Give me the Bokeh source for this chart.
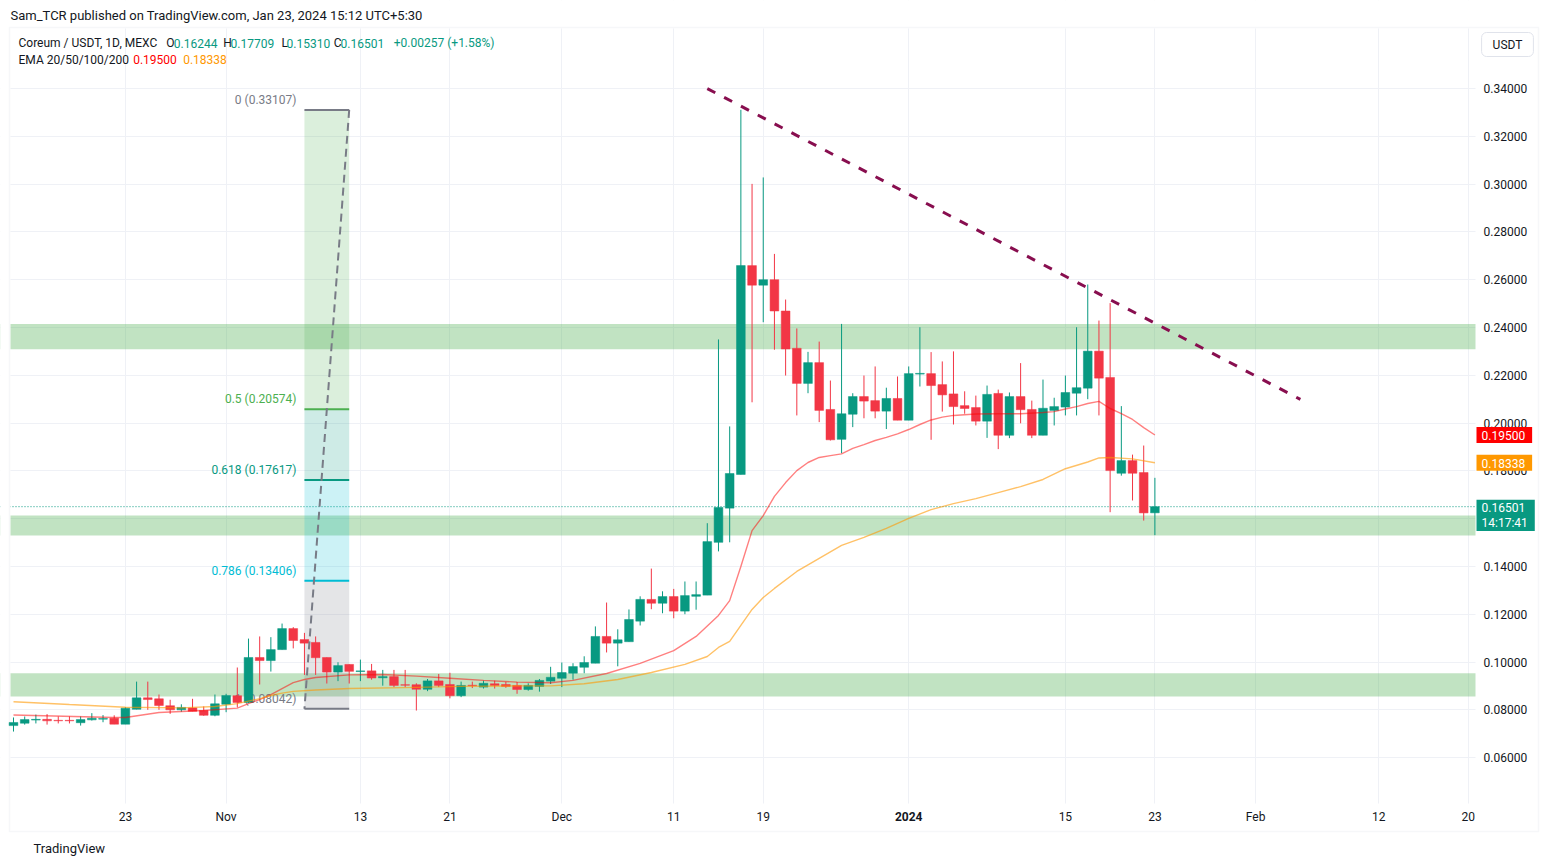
import pandas as pd
from bokeh.plotting import figure
from bokeh.models import (Range1d, FixedTicker, NumeralTickFormatter, BoxAnnotation,
                          Span, Label, ColumnDataSource)
from bokeh.core.properties import value
from bokeh.embed import file_html
from bokeh.resources import INLINE

# ---------------- data ----------------
start_date = "2023-10-13"
opens = [0.0734, 0.0744, 0.0757, 0.0760, 0.0756, 0.0756, 0.0746, 0.0758, 0.0761, 0.0765,
         0.0740, 0.0802, 0.0850, 0.0846, 0.0817, 0.0800, 0.0808, 0.0797, 0.0777, 0.0823,
         0.0859, 0.0831, 0.1019, 0.1006, 0.1052, 0.1140, 0.1094, 0.1082, 0.1019, 0.0958,
         0.0990, 0.0960, 0.0963, 0.0934, 0.0939, 0.0905, 0.0905, 0.0886, 0.0921, 0.0906,
         0.0859, 0.0903, 0.0895, 0.0909, 0.0906, 0.0902, 0.0885, 0.0898, 0.0920, 0.0932,
         0.0953, 0.0978, 0.0995, 0.1107, 0.1079, 0.1085, 0.1171, 0.1262, 0.1246, 0.1274,
         0.1213, 0.1275, 0.1280, 0.1501, 0.1644, 0.1785, 0.2659, 0.2577, 0.2600, 0.2469,
         0.2313, 0.2166, 0.2253, 0.2057, 0.1932, 0.2037, 0.2111, 0.2094, 0.2050, 0.2103,
         0.2012, 0.2205, 0.2207, 0.2161, 0.2122, 0.2073, 0.2065, 0.2008, 0.2124, 0.1949,
         0.2111, 0.2057, 0.1949, 0.2053, 0.2067, 0.2125, 0.2146, 0.2301, 0.2191, 0.1790,
         0.1843, 0.1793, 0.16244]
highs = [0.0768, 0.0772, 0.0780, 0.0782, 0.0772, 0.0772, 0.0772, 0.0786, 0.0778, 0.0777,
         0.0811, 0.0918, 0.0918, 0.0864, 0.0842, 0.0823, 0.0846, 0.0814, 0.0864, 0.0867,
         0.0977, 0.1098, 0.1107, 0.1104, 0.1161, 0.1146, 0.1122, 0.1107, 0.1019, 0.0999,
         0.0990, 0.1010, 0.0992, 0.0967, 0.0967, 0.0967, 0.0911, 0.0929, 0.0950, 0.0955,
         0.0918, 0.0918, 0.0922, 0.0922, 0.0917, 0.0916, 0.0911, 0.0929, 0.0980, 0.0998,
         0.0995, 0.1024, 0.1149, 0.1249, 0.1137, 0.1220, 0.1275, 0.1391, 0.1296, 0.1306,
         0.1337, 0.1337, 0.1581, 0.2350, 0.1986, 0.3311, 0.3001, 0.3028, 0.2708, 0.2517,
         0.2396, 0.2298, 0.2341, 0.2178, 0.2415, 0.2125, 0.2199, 0.2237, 0.2148, 0.2195,
         0.2237, 0.2401, 0.2297, 0.2258, 0.2300, 0.2133, 0.2115, 0.2157, 0.2140, 0.2128,
         0.2251, 0.2094, 0.2182, 0.2106, 0.2199, 0.2401, 0.2580, 0.2429, 0.2502, 0.2071,
         0.1868, 0.1906, 0.17709]
lows = [0.0709, 0.0738, 0.0743, 0.0738, 0.0743, 0.0743, 0.0734, 0.0755, 0.0748, 0.0740,
        0.0740, 0.0802, 0.0800, 0.0800, 0.0783, 0.0792, 0.0794, 0.0775, 0.0773, 0.0790,
        0.0810, 0.0828, 0.0906, 0.0960, 0.1052, 0.1057, 0.0946, 0.0946, 0.0910, 0.0920,
        0.0910, 0.0920, 0.0926, 0.0901, 0.0895, 0.0895, 0.0797, 0.0878, 0.0895, 0.0848,
        0.0853, 0.0891, 0.0889, 0.0889, 0.0892, 0.0867, 0.0880, 0.0876, 0.0908, 0.0895,
        0.0926, 0.0953, 0.0995, 0.1040, 0.0982, 0.1085, 0.1153, 0.1221, 0.1204, 0.1183,
        0.1200, 0.1219, 0.1280, 0.1463, 0.1501, 0.1785, 0.2087, 0.2422, 0.2307, 0.2199,
        0.2032, 0.2125, 0.2004, 0.1927, 0.1874, 0.1983, 0.2020, 0.2020, 0.1975, 0.2012,
        0.2012, 0.2153, 0.1930, 0.2048, 0.1994, 0.2039, 0.1990, 0.1938, 0.1891, 0.1937,
        0.1999, 0.1937, 0.1949, 0.1990, 0.2032, 0.2032, 0.2100, 0.2032, 0.1627, 0.1780,
        0.1676, 0.1592, 0.15310]
closes = [0.0747, 0.0759, 0.0760, 0.0754, 0.0754, 0.0754, 0.0759, 0.0765, 0.0764, 0.0740,
          0.0807, 0.0850, 0.0843, 0.0818, 0.0800, 0.0810, 0.0794, 0.0777, 0.0825, 0.0860,
          0.0831, 0.1019, 0.1006, 0.1052, 0.1140, 0.1090, 0.1079, 0.1018, 0.0958, 0.0985,
          0.0961, 0.0963, 0.0933, 0.0939, 0.0902, 0.0903, 0.0886, 0.0921, 0.0902, 0.0859,
          0.0902, 0.0901, 0.0911, 0.0902, 0.0898, 0.0885, 0.0902, 0.0923, 0.0936, 0.0956,
          0.0981, 0.0998, 0.1107, 0.1079, 0.1093, 0.1178, 0.1262, 0.1246, 0.1274, 0.1213,
          0.1278, 0.1282, 0.1504, 0.1647, 0.1789, 0.2659, 0.2577, 0.2600, 0.2469, 0.2310,
          0.2166, 0.2253, 0.2053, 0.1930, 0.2039, 0.2111, 0.2092, 0.2050, 0.2103, 0.2012,
          0.2207, 0.2208, 0.2157, 0.2118, 0.2069, 0.2061, 0.2008, 0.2120, 0.1949, 0.2111,
          0.2056, 0.1949, 0.2062, 0.2069, 0.2128, 0.2148, 0.2301, 0.2188, 0.1801, 0.1843,
          0.1790, 0.1624, 0.16501]

# EMA readings (day offset from start_date, value)
ema20_days = [0, 9, 10, 13, 17, 20, 21, 22, 23, 24, 25, 26, 27, 30, 33, 36, 39, 42, 45, 48,
              50, 53, 56, 59, 61, 63, 64, 65, 66, 67, 68, 69, 70, 71, 72, 73, 74, 75, 76, 77,
              78, 79, 80, 81, 82, 83, 84, 86, 88, 90, 92, 93, 94, 95, 96, 97, 98, 99, 100,
              101, 102]
ema20_vals = [0.0778, 0.0768, 0.0768, 0.0789, 0.0797, 0.0807, 0.0826, 0.0843, 0.0864, 0.0889,
              0.0914, 0.0927, 0.0935, 0.0946, 0.0948, 0.0941, 0.0932, 0.0923, 0.0916, 0.0913,
              0.0923, 0.0952, 0.0994, 0.1048, 0.1107, 0.1195, 0.1257, 0.1400, 0.1550, 0.1613,
              0.1693, 0.1751, 0.1801, 0.1835, 0.1856, 0.1864, 0.1871, 0.1894, 0.1910, 0.1927,
              0.1940, 0.1955, 0.1973, 0.1994, 0.2013, 0.2025, 0.2032, 0.2038, 0.2039, 0.2039,
              0.2044, 0.2048, 0.2059, 0.2069, 0.2082, 0.2091, 0.2061, 0.2040, 0.2015, 0.1981,
              0.1950]
ema50_days = [0, 5, 10, 15, 18, 20, 22, 23, 24, 25, 27, 30, 35, 40, 45, 48, 51, 54, 57, 60,
              62, 63, 64, 65, 66, 67, 68, 70, 72, 74, 76, 78, 80, 82, 84, 86, 88, 90, 92, 94,
              96, 97, 98, 100, 102]
ema50_vals = [0.0834, 0.0822, 0.0811, 0.0808, 0.0814, 0.0826, 0.0847, 0.0860, 0.0870, 0.0877,
              0.0883, 0.0889, 0.0893, 0.0898, 0.0900, 0.0900, 0.0909, 0.0927, 0.0956, 0.0990,
              0.1023, 0.1061, 0.1086, 0.1153, 0.1220, 0.1270, 0.1308, 0.1379, 0.1434, 0.1488,
              0.1522, 0.1559, 0.1601, 0.1638, 0.1663, 0.1684, 0.1709, 0.1734, 0.1764, 0.1809,
              0.1837, 0.1854, 0.1856, 0.1850, 0.1834]

zone_bottoms = [0.2309, 0.1529, 0.0856]
zone_tops = [0.2415, 0.1613, 0.0953]

fib_levels = ["0", "0.5", "0.618", "0.786", "1"]
fib_prices = [0.33107, 0.20574, 0.17617, 0.13406, 0.08042]
fib_dates = ["2023-11-08", "2023-11-12"]

trend_dates = ["2023-12-14", "2024-02-05"]
trend_prices = [0.3400, 0.2099]

y_ticks = [0.06, 0.08, 0.10, 0.12, 0.14, 0.16, 0.18, 0.20, 0.22, 0.24, 0.26, 0.28, 0.30, 0.32, 0.34]
x_tick_dates = ["2023-10-23", "2023-11-01", "2023-11-13", "2023-11-21", "2023-12-01",
                "2023-12-11", "2023-12-19", "2024-01-01", "2024-01-15", "2024-01-23",
                "2024-02-01", "2024-02-12", "2024-02-20"]
x_tick_labels = ["23", "Nov", "13", "21", "Dec", "11", "19", "2024", "15", "23", "Feb", "12", "20"]
bold_tick = "2024"

last_close = 0.16501
ema20_last = 0.19500
ema50_last = 0.18338

# ---------------- layout geometry ----------------
W, H = 1549, 866
PANE_L, PANE_R, PANE_T, PANE_B = 10, 1475, 28, 803       # chart pane in canvas pixels
pane_x0, pane_x1 = -0.268, 130.65                        # visible days in the pane
pane_y0, pane_y1 = 0.04079, 0.36513                      # visible prices in the pane
xpp = (pane_x1 - pane_x0) / (PANE_R - PANE_L)
ypp = (pane_y1 - pane_y0) / (PANE_B - PANE_T)
x_start = pane_x0 - PANE_L * xpp
x_end = pane_x1 + (W - PANE_R) * xpp
y_end = pane_y1 + PANE_T * ypp
y_start = pane_y0 - (H - PANE_B) * ypp

t0 = pd.Timestamp(start_date)
def dayoff(d):
    return (pd.Timestamp(d) - t0).days

days = list(range(len(opens)))
UP, DOWN = "#089981", "#f23645"
colors = [UP if c >= o else DOWN for o, c in zip(opens, closes)]
src = ColumnDataSource(dict(x=days, o=opens, h=highs, l=lows, c=closes,
                            top=[max(o, c) for o, c in zip(opens, closes)],
                            bot=[min(o, c) for o, c in zip(opens, closes)],
                            col=colors))

FONT = "Roboto"
p = figure(width=W, height=H, title=None,
           x_range=Range1d(x_start, x_end), y_range=Range1d(y_start, y_end),
           y_axis_location="right", output_backend="svg", toolbar_location=None,
           min_border_left=0, min_border_right=0, min_border_top=0, min_border_bottom=0)
p.background_fill_color = "white"
p.border_fill_color = "white"
p.outline_line_color = None

tick_days = [dayoff(d) for d in x_tick_dates]
p.xaxis.ticker = FixedTicker(ticks=tick_days)
p.xaxis.major_label_overrides = {d: ("" if lab == bold_tick else lab)
                                 for d, lab in zip(tick_days, x_tick_labels)}
p.yaxis.ticker = FixedTicker(ticks=y_ticks)
p.yaxis.formatter = NumeralTickFormatter(format="0.00000")
p.xgrid.ticker = FixedTicker(ticks=tick_days)
p.ygrid.ticker = FixedTicker(ticks=y_ticks)
p.grid.grid_line_color = "#eff1f6"
p.grid.grid_line_width = 1
for ax in (p.xaxis, p.yaxis):
    ax.axis_line_color = None
    ax.major_tick_line_color = None
    ax.minor_tick_line_color = None
    ax.major_tick_out = 0
    ax.major_tick_in = 0
    ax.minor_tick_out = 0
    ax.major_label_text_color = "#131722"
    ax.major_label_text_font = FONT
    ax.major_label_text_font_size = "12px"
p.yaxis.major_label_standoff = 1483 - W        # labels drawn inside the price-scale strip
p.xaxis.major_label_standoff = 809 - H         # labels drawn inside the time-scale strip

# zones and last price line (underlay)
for b, t in zip(zone_bottoms, zone_tops):
    p.add_layout(BoxAnnotation(bottom=b, top=t, fill_color="#4caf50", fill_alpha=0.35,
                               line_color=None, level="underlay"))
p.add_layout(Span(location=last_close, dimension="width", line_color="#089981",
                  line_width=1, line_dash="1 2", level="underlay"))

# white strips outside the chart pane (hide grid/zones there)
for kw in (dict(left=pane_x1), dict(right=pane_x0), dict(bottom=pane_y1), dict(top=pane_y0)):
    p.add_layout(BoxAnnotation(fill_color="white", fill_alpha=1.0, line_color=None,
                               level="underlay", **kw))
# outer widget border
p.add_layout(BoxAnnotation(left=pane_x0 - 1 * xpp, right=pane_x1 + 63 * xpp,
                           top=pane_y1 + 1 * ypp, bottom=pane_y0 - 28 * ypp,
                           fill_alpha=0, line_color="#e0e3eb", line_width=1.5,
                           level="underlay"))

# fib retracement
fx0, fx1 = dayoff(fib_dates[0]), dayoff(fib_dates[1])
fill_cols = ["#4caf50", "#089981", "#00bcd4", "#787b86"]
p.quad(left=[fx0] * 4, right=[fx1] * 4, top=fib_prices[:-1], bottom=fib_prices[1:],
       fill_color=fill_cols, fill_alpha=0.2, line_color=None)
lvl_cols = ["#787b86", "#4caf50", "#089981", "#00bcd4", "#787b86"]
p.text(x=[fx0] * 5, y=fib_prices,
       text=[f"{lv} ({pr:.5f})" for lv, pr in zip(fib_levels, fib_prices)],
       text_color=lvl_cols, text_align="right", text_baseline="bottom",
       x_offset=-8, y_offset=-3, text_font=value(FONT), text_font_size="12px")
p.segment(x0=[fx0] * 5, x1=[fx1] * 5, y0=fib_prices, y1=fib_prices,
          line_color=lvl_cols, line_width=2)

# candles
p.segment(x0="x", x1="x", y0="l", y1="h", line_color="col", line_width=1, source=src)
p.vbar(x="x", width=0.78, top="top", bottom="bot", fill_color="col", line_color="col",
       line_width=0.5, source=src)

# EMAs
p.line(ema20_days, ema20_vals, line_color="#ff0000", line_alpha=0.5, line_width=1.4)
p.line(ema50_days, ema50_vals, line_color="#ff9800", line_alpha=0.6, line_width=1.4)

# fib trend line (dashed grey)
p.line([fx1, fx0], [fib_prices[0], fib_prices[-1]], line_color="#787b86", line_width=2,
       line_dash="8 5")

# descending trend line
p.line([dayoff(d) for d in trend_dates], trend_prices, line_color="#880e4f", line_width=3,
       line_dash="9 10")

# ---------------- texts ----------------
def lab(x, y, text, color="#131722", size="12px", **kw):
    p.add_layout(Label(x=x, y=H - y, x_units="screen", y_units="screen", text=text,
                       text_color=color, text_font=FONT, text_font_size=size,
                       text_baseline="middle", **kw))

lab(10, 15, "Sam_TCR published on TradingView.com, Jan 23, 2024 15:12 UTC+5:30", size="13px")
segs1 = [(18, "Coreum / USDT, 1D, MEXC", "#131722"), (165.7, "O", "#131722"),
         (173.3, f"{opens[-1]:.5f}", UP), (222.7, "H", "#131722"), (230, f"{highs[-1]:.5f}", UP),
         (281, "L", "#131722"), (286, f"{lows[-1]:.5f}", UP), (333.3, "C", "#131722"),
         (340, f"{closes[-1]:.5f}", UP), (393.3, "+0.00257 (+1.58%)", UP)]
for x, t, c in segs1:
    lab(x, 42.7, t, c)
segs2 = [(18, "EMA 20/50/100/200", "#131722"), (132.7, f"{ema20_last:.5f}", "#ff0000"),
         (182.7, f"{ema50_last:.5f}", "#ff9800")]
for x, t, c in segs2:
    lab(x, 59.3, t, c)

lab(1507, 44, "USDT", text_align="center", border_line_color="#e0e3eb",
    border_line_width=1, padding=dict(left=11, right=11, top=5, bottom=5),
    border_radius=5, background_fill_color="white")
lab(33, 848, "TradingView", size="13px")

# bold year label on the time scale
p.add_layout(Label(x=dayoff(x_tick_dates[x_tick_labels.index(bold_tick)]), y=H - 816,
                   x_units="data", y_units="screen", text=bold_tick, text_color="#131722",
                   text_font=FONT, text_font_size="12px", text_font_style="bold",
                   text_align="center", text_baseline="middle"))

# price labels on the price scale
for yv, txt, bg in [(ema20_last, f"{ema20_last:.5f}", "#ff0000"),
                    (ema50_last, f"{ema50_last:.5f}", "#ff9800")]:
    p.add_layout(Label(x=1476, y=yv, x_units="screen", y_units="data", text=txt,
                       text_color="white", text_font=FONT, text_font_size="12px",
                       text_baseline="middle", background_fill_color=bg,
                       padding=dict(left=5, right=7, top=4, bottom=3)))
p.add_layout(Label(x=1476, y=last_close, x_units="screen", y_units="data",
                   text=f"{last_close:.5f}\n14:17:41", text_color="white", text_font=FONT,
                   text_font_size="12px", text_baseline="top", y_offset=7,
                   text_line_height=1.1, background_fill_color=UP,
                   padding=dict(left=5, right=7, top=1, bottom=1)))

open("out.html", "w").write(file_html(p, INLINE))
